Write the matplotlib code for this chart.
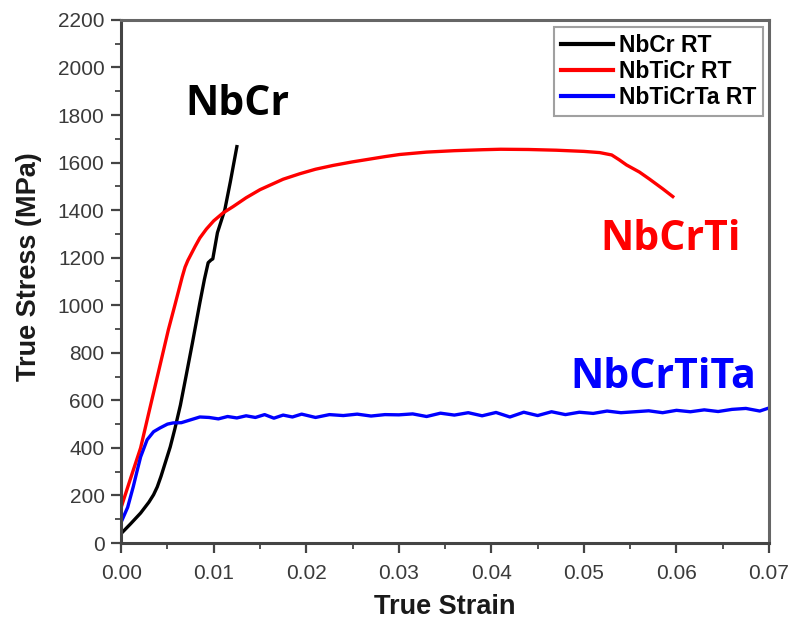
import matplotlib
matplotlib.use("Agg")
import matplotlib.pyplot as plt
from matplotlib.ticker import MultipleLocator

# NbCr RT (black)
nbcr_strain = [0.0, 0.0010, 0.0021, 0.0030, 0.0035, 0.0039, 0.0043, 0.0048, 0.0053,
               0.0058, 0.0064, 0.0070, 0.0077, 0.0085, 0.0090, 0.0094, 0.0097,
               0.0099, 0.0104, 0.0112, 0.0118, 0.0125]
nbcr_stress = [40, 80, 126, 172, 203, 236, 280, 342, 404, 480, 580, 700, 842, 1010,
               1110, 1179, 1190, 1195, 1305, 1402, 1520, 1667]

# NbTiCr RT (red)
nbticr_strain = [0.0, 0.0010, 0.0021, 0.0030, 0.0040, 0.0051, 0.0058, 0.0062, 0.0066,
                 0.0069, 0.0072, 0.0076, 0.0080, 0.0085, 0.0092, 0.0100, 0.0110,
                 0.0121, 0.0135, 0.0150, 0.0175, 0.0193, 0.0210, 0.0229, 0.0250,
                 0.0266, 0.0285, 0.0301, 0.0330, 0.0360, 0.0390, 0.0410, 0.0440,
                 0.0470, 0.0500, 0.0517, 0.0530, 0.0538, 0.0546, 0.0560, 0.0571,
                 0.0585, 0.0596]
nbticr_stress = [150, 270, 400, 550, 715, 897, 1000, 1060, 1120, 1160, 1188, 1218,
                 1248, 1283, 1320, 1355, 1388, 1415, 1452, 1486, 1530, 1553, 1572,
                 1588, 1603, 1613, 1625, 1634, 1644, 1650, 1654, 1656, 1655, 1652,
                 1647, 1642, 1632, 1612, 1590, 1560, 1530, 1490, 1457]

# NbTiCrTa RT (blue)
nbticrta_strain = [0.0, 0.0007, 0.0013, 0.0017, 0.0021, 0.0028, 0.0035, 0.0042,
                   0.0050, 0.0056, 0.0065, 0.0075, 0.0085, 0.0095, 0.0105, 0.0115,
                   0.0125, 0.0135, 0.0145, 0.0155, 0.0165, 0.0175, 0.0185, 0.0195,
                   0.0210, 0.0225, 0.0240, 0.0255, 0.0270, 0.0285, 0.0300, 0.0315,
                   0.0330, 0.0345, 0.0360, 0.0375, 0.0390, 0.0405, 0.0420, 0.0435,
                   0.0450, 0.0465, 0.0480, 0.0495, 0.0510, 0.0525, 0.0540, 0.0555,
                   0.0570, 0.0585, 0.0600, 0.0615, 0.0630, 0.0645, 0.0660, 0.0675,
                   0.0690, 0.0700]
nbticrta_stress = [88, 150, 236, 300, 362, 434, 468, 484, 500, 505, 506, 518, 530,
                   528, 522, 532, 526, 535, 528, 540, 525, 538, 530, 542, 528, 540,
                   536, 542, 534, 540, 539, 543, 532, 546, 538, 548, 535, 549, 530,
                   550, 536, 552, 540, 550, 545, 555, 548, 552, 556, 548, 558, 552,
                   560, 553, 562, 566, 555, 568]

fig = plt.figure(figsize=(7.92, 6.22), dpi=100)
ax = fig.add_axes([0.153, 0.127, 0.818, 0.841])

ax.plot(nbcr_strain, nbcr_stress, color="black", lw=2.4, label="NbCr RT")
ax.plot(nbticr_strain, nbticr_stress, color="#ff0000", lw=2.4, label="NbTiCr RT")
ax.plot(nbticrta_strain, nbticrta_stress, color="#0000ff", lw=2.4, label="NbTiCrTa RT")

ax.set_xlim(0, 0.07)
ax.set_ylim(0, 2200)
ax.xaxis.set_major_locator(MultipleLocator(0.01))
ax.xaxis.set_minor_locator(MultipleLocator(0.005))
ax.yaxis.set_major_locator(MultipleLocator(200))
ax.yaxis.set_minor_locator(MultipleLocator(100))
ax.xaxis.set_major_formatter(plt.FormatStrFormatter("%.2f"))

ax.tick_params(which="major", direction="out", length=7, width=1.6,
               colors="#444444", labelsize=15)
ax.tick_params(axis="x", which="major", pad=8)
ax.tick_params(axis="y", which="major", pad=5)
ax.tick_params(which="minor", direction="out", length=4, width=1.3, colors="#444444")
ax.tick_params(top=False, right=False, which="both")
for lbl in ax.get_xticklabels() + ax.get_yticklabels():
    lbl.set_family("Liberation Sans")
    lbl.set_color("#3a3a3a")

for side in ["left", "bottom"]:
    ax.spines[side].set_linewidth(2.2)
    ax.spines[side].set_color("#444444")
for side in ["top", "right"]:
    ax.spines[side].set_linewidth(2.2)
    ax.spines[side].set_color("#666666")

ax.set_xlabel("True Strain", fontsize=19.5, fontweight="bold",
              family="Liberation Sans", color="#1a1a1a", labelpad=8)
ax.set_ylabel("True Stress (MPa)", fontsize=19.5, fontweight="bold",
              family="Liberation Sans", color="#1a1a1a")
ax.yaxis.set_label_coords(-0.122, 0.528)

ax.text(0.01253, 1802, "NbCr", color="black", fontsize=29.5, fontweight="bold",
        family="Open Sans", ha="center", va="baseline")
ax.text(0.0594, 1234, "NbCrTi", color="#ff0000", fontsize=29.5, fontweight="bold",
        family="Open Sans", ha="center", va="baseline")
ax.text(0.0586, 653, "NbCrTiTa", color="#0000ff", fontsize=29.5, fontweight="bold",
        family="Open Sans", ha="center", va="baseline")

leg = ax.legend(loc="upper right", bbox_to_anchor=(0.991, 0.987),
                prop={"family": "Liberation Sans", "weight": "bold", "size": 16.5},
                frameon=True, fancybox=False, borderpad=0.3, labelspacing=0.15,
                handlelength=2.3, handletextpad=0.25, borderaxespad=0.0)
leg.get_frame().set_edgecolor("#888888")
leg.get_frame().set_linewidth(1.5)
for line in leg.get_lines():
    line.set_linewidth(3)

fig.savefig("out.png", dpi=100)
